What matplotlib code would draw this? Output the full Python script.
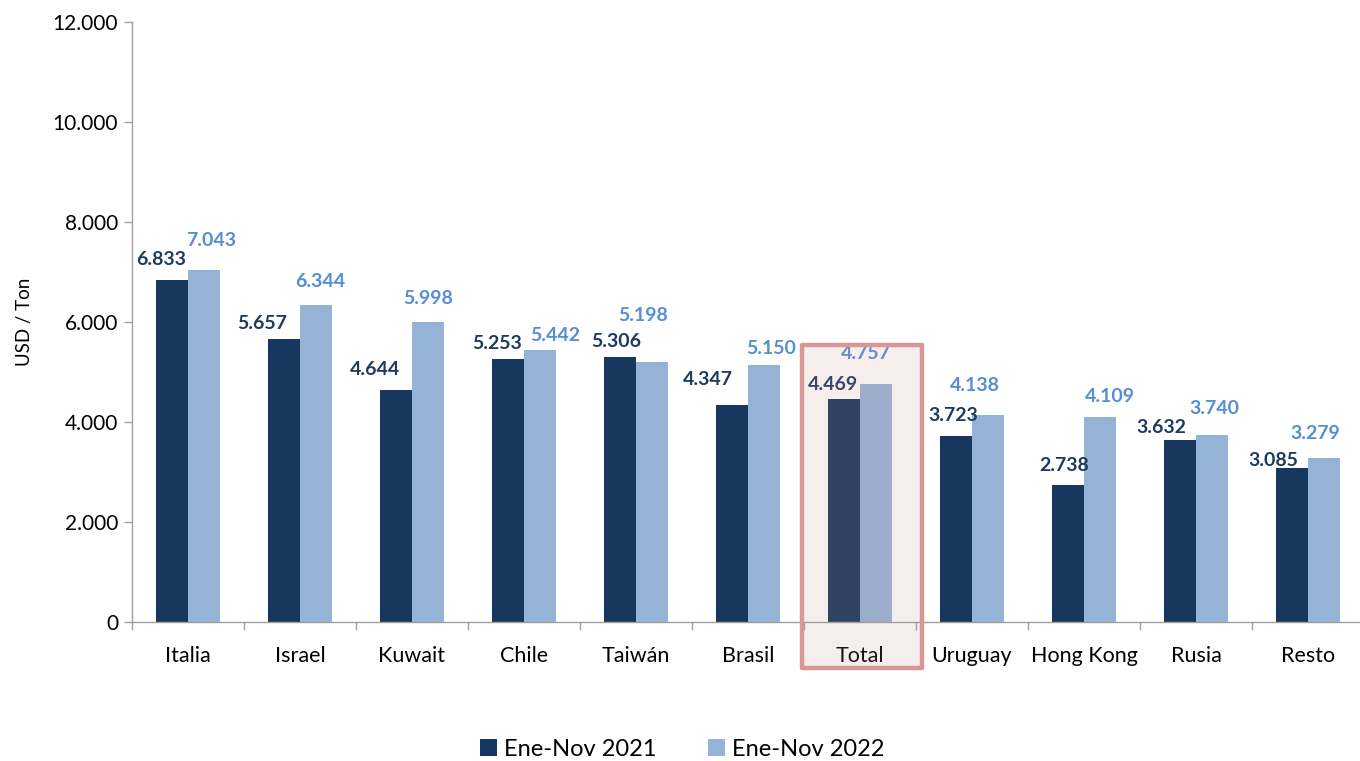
import matplotlib
matplotlib.use("Agg")
import matplotlib.pyplot as plt
from matplotlib.patches import FancyBboxPatch
import numpy as np

categories = ["Italia", "Israel", "Kuwait", "Chile", "Taiwán", "Brasil", "Total",
              "Uruguay", "Hong Kong", "Rusia", "Resto"]
values_2021 = [6833, 5657, 4644, 5253, 5306, 4347, 4469, 3723, 2738, 3632, 3085]
values_2022 = [7043, 6344, 5998, 5442, 5198, 5150, 4757, 4138, 4109, 3740, 3279]
series_names = ["Ene-Nov 2021", "Ene-Nov 2022"]
yticks = [0, 2000, 4000, 6000, 8000, 10000, 12000]
ytick_labels = ["0", "2.000", "4.000", "6.000", "8.000", "10.000", "12.000"]
highlight = "Total"

# label offsets (pixels) relative to bar centre / bar top (style only)
off_2021 = [(-11, 21), (-22, 16), (-21, 20), (-11, 16), (-4, 15), (-24, 25),
            (-11, 14), (-3, 20), (-4, 20), (-19, 13), (-19, 7)]
off_2022 = [(7, 29), (4, 23), (0, 24), (15, 14), (-9, 47), (7, 16),
            (-10, 31), (-13, 30), (10, 20), (2, 27), (-9, 25)]

DARK = "#17375e"
LIGHT = "#95b3d7"
DARK_TXT = "#1f3a5f"
LIGHT_TXT = "#558ed5"
FONT = ["Lato", "DejaVu Sans"]
plt.rcParams["font.family"] = FONT

W, H = 1360, 761
fig = plt.figure(figsize=(W / 100, H / 100), dpi=100)
ax = fig.add_axes([132 / W, 1 - 622 / H, 1232 / W, 600 / H])

x = np.arange(len(categories))
bw = 32 / 112
b1 = ax.bar(x - bw / 2, values_2021, bw, color=DARK, label=series_names[0], zorder=2)
b2 = ax.bar(x + bw / 2, values_2022, bw, color=LIGHT, label=series_names[1], zorder=2)

for i in range(len(categories)):
    ax.annotate(f"{values_2021[i]:,}".replace(",", "."), (x[i] - bw / 2, values_2021[i]),
                xytext=off_2021[i], textcoords="offset pixels", ha="center", va="center",
                fontsize=14, fontweight="bold", color=DARK_TXT, zorder=3)
    ax.annotate(f"{values_2022[i]:,}".replace(",", "."), (x[i] + bw / 2, values_2022[i]),
                xytext=off_2022[i], textcoords="offset pixels", ha="center", va="center",
                fontsize=14, fontweight="bold", color=LIGHT_TXT, zorder=3)

ax.set_xlim(-0.5, len(categories) - 0.5)
ax.set_ylim(0, 12000)
ax.set_yticks(yticks)
ax.set_yticklabels(ytick_labels, fontsize=15)
ax.set_xticks(x)
ax.set_xticklabels(categories, fontsize=15.5)
ax.set_xticks(np.arange(len(categories) + 1) - 0.5, minor=True)
ax.tick_params(axis="x", which="major", length=0, pad=17)
ax.tick_params(axis="x", which="minor", length=6, width=1, color="#a0a0a0", direction="out")
ax.tick_params(axis="y", length=6, width=1, color="#a0a0a0", direction="out", pad=4)
for s in ["top", "right"]:
    ax.spines[s].set_visible(False)
for s in ["left", "bottom"]:
    ax.spines[s].set_color("#a0a0a0")
    ax.spines[s].set_linewidth(1)
ax.set_ylabel("USD / Ton", fontsize=13.5)
ax.yaxis.set_label_coords(-99 / 1232, 0.5)

# highlight box around "Total"
hi = categories.index(highlight)
x0 = hi - 0.5 + (802 - 132 - 112 * hi) / 112
x1 = hi - 0.5 + (922 - 132 - 112 * hi) / 112
y0, y1 = -46 * 20, (622 - 345) * 20
fill = FancyBboxPatch((x0, y0), x1 - x0, y1 - y0, boxstyle="square,pad=0",
                      facecolor="#c88a8a", alpha=0.15, edgecolor="none",
                      clip_on=False, zorder=4)
edge = FancyBboxPatch((x0, y0), x1 - x0, y1 - y0, boxstyle="square,pad=0",
                      facecolor="none", edgecolor="#d99694", linewidth=3.2,
                      clip_on=False, zorder=5, joinstyle="round")
ax.add_patch(fill)
ax.add_patch(edge)

fig.legend(handles=[b1, b2], labels=series_names, loc="center",
           bbox_to_anchor=(682 / W, 1 - 749 / H), ncol=2, frameon=False,
           fontsize=17, handlelength=0.7, handleheight=0.7, handletextpad=0.3,
           columnspacing=2.2)

fig.savefig("out.png", dpi=100)
